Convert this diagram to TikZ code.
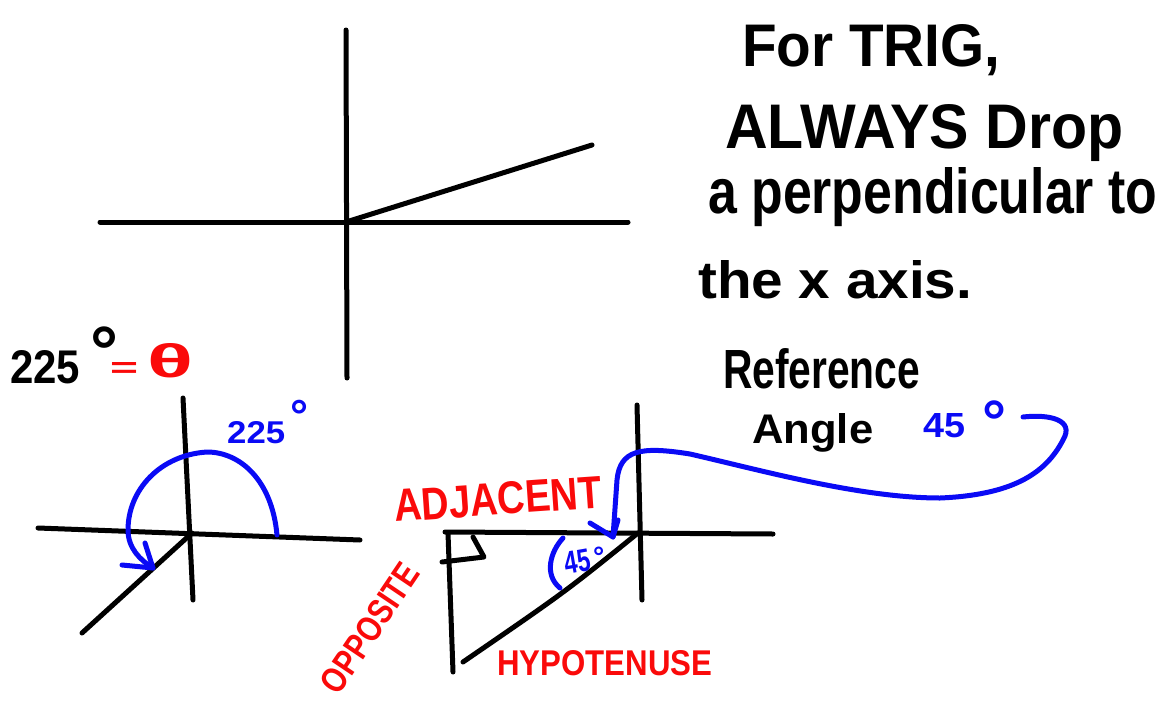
\documentclass[tikz,border=0pt]{standalone}
\usepackage{fontspec}
\setmainfont{Liberation Sans}
\usepackage{graphicx}
\definecolor{inkblue}{RGB}{10,10,245}
\definecolor{inkred}{RGB}{250,10,10}
\newcommand{\hw}[3]{\resizebox{#1pt}{#2pt}{\bfseries #3}}
\begin{document}
\begin{tikzpicture}[x=1pt,y=-1pt,
  ink/.style={line width=5pt,line cap=round,line join=round},
  txt/.style={inner sep=0pt,anchor=base west},
  deg/.style={inner sep=0pt,anchor=base west,font=\bfseries}]
\useasboundingbox (0,0) rectangle (1162,704);
\fill[white] (0,0) rectangle (1162,704);

% ---------- top axes ----------
\coordinate (O1) at (346,222);
\coordinate (R1) at (592,145);
\draw[ink] (346,30) -- (347,378);
\draw[ink] (100,222) -- (628,222);
\draw[ink] (O1) -- (R1);

% ---------- notes top right ----------
\node[txt] (t1) at (742,66) {\hw{258}{42}{For TRIG,}};
\node[txt] (t2) at (725,148) {\hw{398}{44}{ALWAYS Drop}};
\node[txt] (t3) at (708,213) {\hw{449}{46}{a perpendicular to}};
\node[txt] (t4) at (698,298) {\hw{274}{38}{the x axis.}};
\node[txt] (t5) at (723,388) {\hw{197}{40}{Reference}};
\node[txt] (t6) at (752,443) {\hw{121}{30}{Angle}};
\node[txt,text=inkblue] (t7) at (923,437) {\hw{42}{24}{45}};
\node[deg,text=inkblue,font=\fontsize{60}{60}\selectfont\bfseries] (t7d) at (982,442) {°};

% ---------- 225 = theta ----------
\node[txt] (a1) at (10,383) {\hw{70}{33}{225}};
\node[deg,font=\fontsize{70}{70}\selectfont\bfseries] (a1d) at (90,375) {°};
\node[txt,text=inkred] (a2) at (110,377) {\hw{28}{15}{=}};
\node[txt,text=inkred] (a3) at (147,377) {\hw{46}{34}{θ}};

% ---------- bottom left axes ----------
\coordinate (O2) at (192,533);
\coordinate (R2) at (82,633);
\draw[ink] (183,398) -- (193,600);
\draw[ink] (38,528) -- (360,540);
\draw[ink] (O2) -- (R2);
\coordinate (B1) at (277,535);
\coordinate (B2) at (153,568);
\draw[ink,inkblue] (B1) .. controls (272,480) and (240,452) .. (207,452)
  .. controls (160,455) and (128,490) .. (128,530)
  .. controls (128,548) and (140,560) .. (B2);
\draw[ink,inkblue] (122,565) -- (B2) -- (145,543);
\node[txt,text=inkblue] (b1) at (227,443) {\hw{58}{22}{225}};
\node[deg,text=inkblue,font=\fontsize{45}{45}\selectfont\bfseries] (b1d) at (290,431) {°};

% ---------- bottom right: reference triangle ----------
\coordinate (O3) at (638,533);
\coordinate (P3) at (463,662);
\draw[ink] (637,405) -- (642,600);
\draw[ink] (445,532) -- (773,534);
\draw[ink] (O3) .. controls (565,592) .. (P3);
\draw[ink] (448,533) -- (453,672);
\draw[ink] (473,537) -- (484,557) -- (442,562);

\node[txt,text=inkred,rotate=4] (c1) at (395,522) {\hw{208}{32}{ADJACENT}};
\node[txt,text=inkred] (c2) at (497,675) {\hw{215}{25}{HYPOTENUSE}};
\node[inner sep=0pt,anchor=center,text=inkred,rotate=56] (c3) at (370,628) {\hw{148}{25}{OPPOSITE}};

% small 45 degrees
\draw[ink,inkblue] (563,538) .. controls (550,552) and (544,575) .. (560,588);
\node[txt,text=inkblue,rotate=10] (d1) at (566,575) {\hw{26}{22}{45}};
\node[deg,text=inkblue,font=\fontsize{28}{28}\selectfont\bfseries] (d1d) at (593,566) {°};

% long blue connector from "45°" to the reference angle
\coordinate (E1) at (1023,417);
\coordinate (E2) at (613,537);
\draw[ink,inkblue] (E1) .. controls (1050,414) and (1075,420) .. (1063,440)
  .. controls (1045,475) and (1010,495) .. (940,498)
  .. controls (860,498) and (760,470) .. (690,454)
  .. controls (640,446) and (620,450) .. (617,480)
  -- (E2);
\draw[ink,inkblue] (590,523) -- (E2) -- (618,520);
\end{tikzpicture}
\end{document}
